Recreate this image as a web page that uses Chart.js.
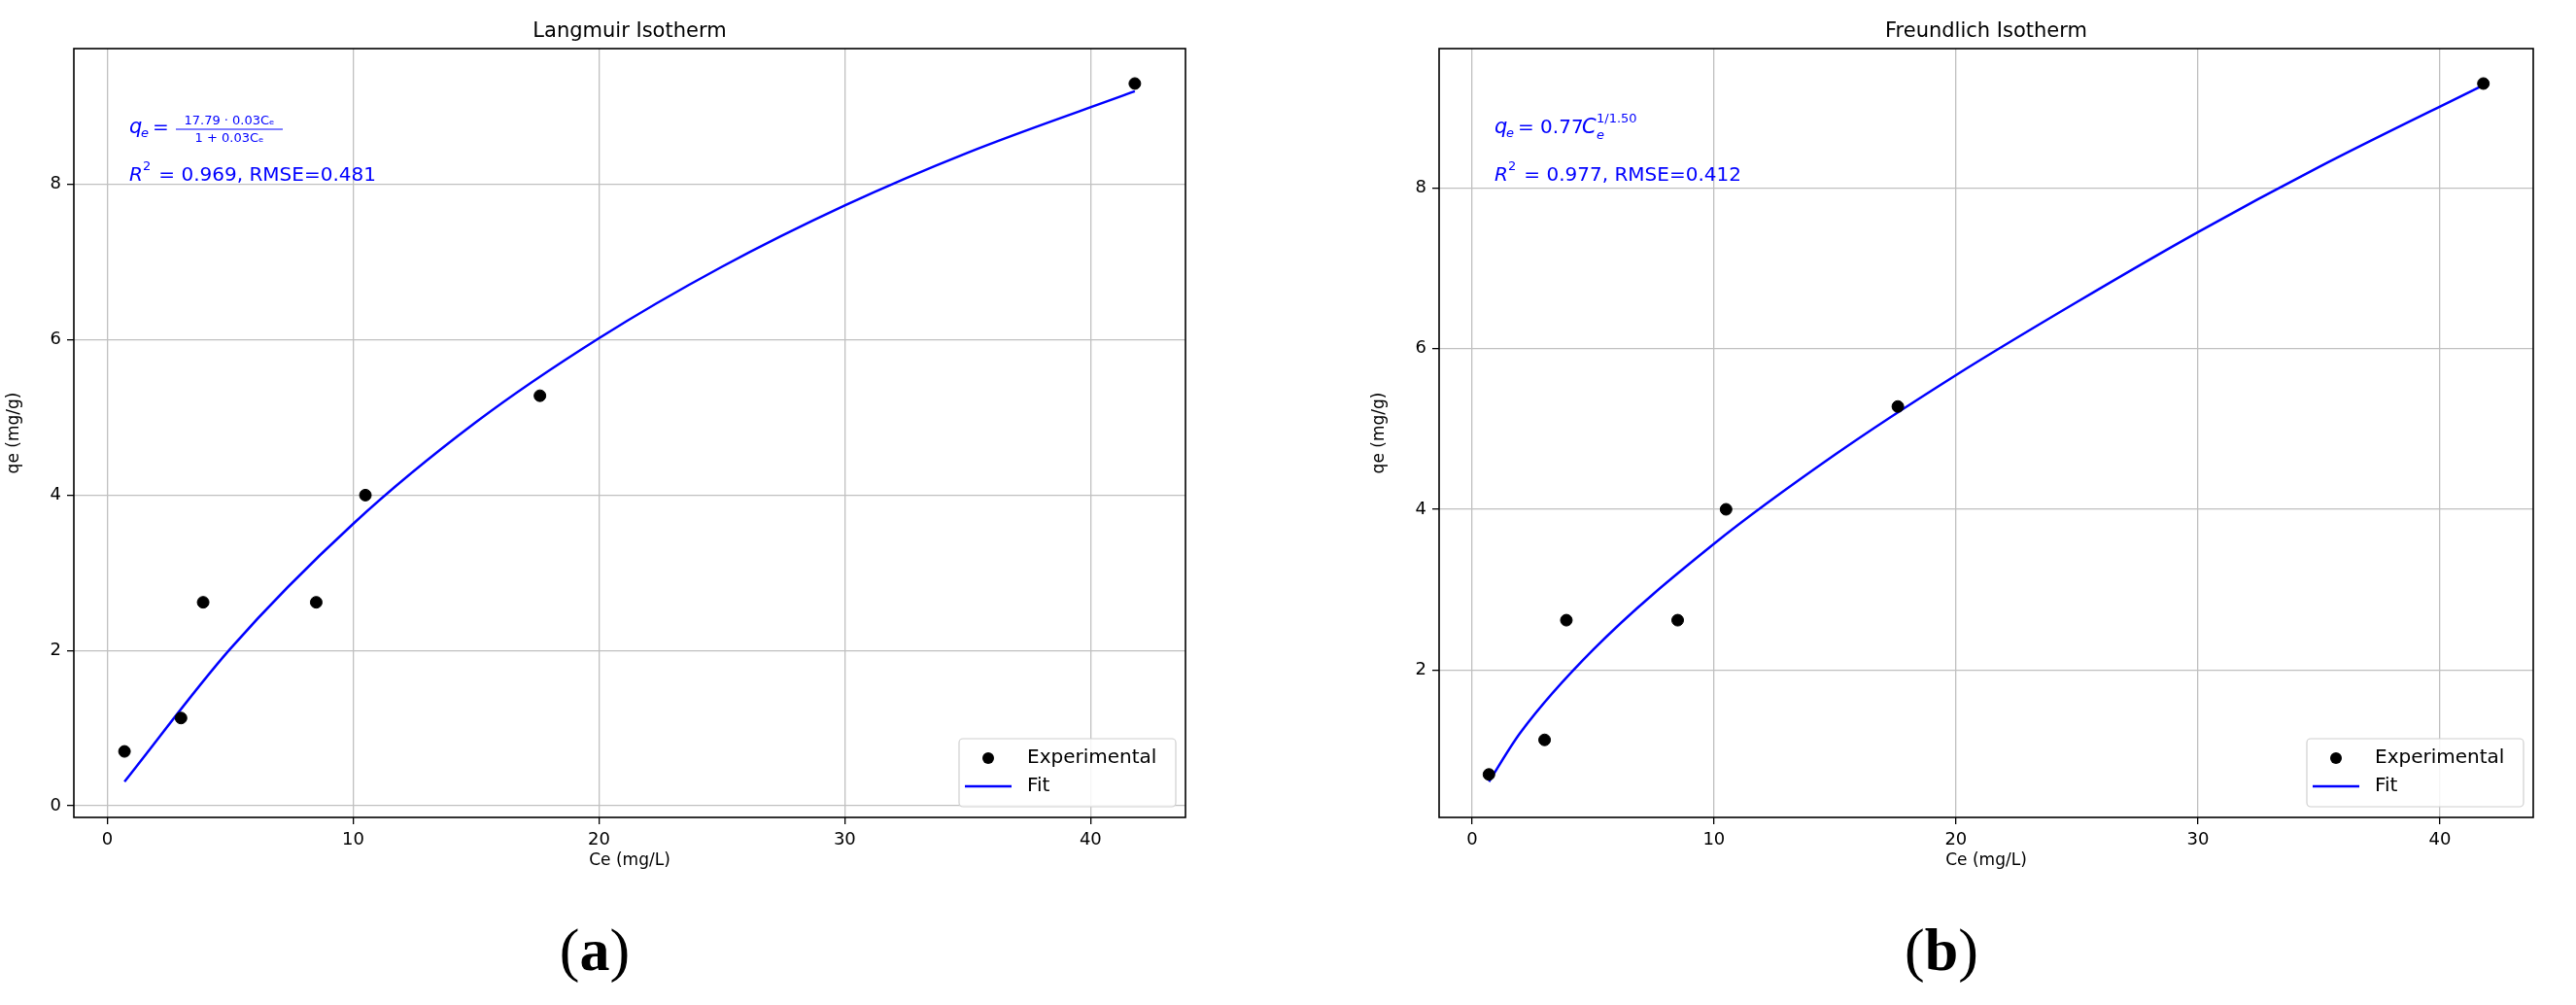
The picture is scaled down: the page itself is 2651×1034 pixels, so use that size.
<!DOCTYPE html>
<html><head><meta charset="utf-8">
<script src="https://cdn.jsdelivr.net/npm/chart.js@4"></script>
<style>
body{margin:0;background:#fff;width:2651px;height:1034px;position:relative;overflow:hidden}
.c{position:absolute;top:0}
.lab{position:absolute;top:942px;font-family:"Liberation Serif",serif;font-size:62px;transform:translateX(-50%)}
.lab b{font-weight:bold}
</style></head><body>
<div class="c" style="left:0;width:1240px;height:900px"><canvas id="c1"></canvas></div>
<div class="c" style="left:1405px;width:1240px;height:900px"><canvas id="c2"></canvas></div>
<div class="lab" style="left:612px">(<b>a</b>)</div>
<div class="lab" style="left:1998px">(<b>b</b>)</div>
<script>
const ceExp = [0.7, 3.0, 3.9, 8.5, 10.5, 17.6, 41.8];
const qeExp = [0.7, 1.13, 2.62, 2.62, 4.0, 5.28, 9.3];
const ceFitL = [0.7, 5, 10, 15, 20, 25, 30, 35, 41.8];
const qeFitL = [0.31, 2.02, 3.63, 4.94, 6.02, 6.94, 7.73, 8.41, 9.2];
const ceFitF = [0.7, 2, 5, 10, 15, 20, 25, 30, 35, 41.8];
const qeFitF = [0.61, 1.22, 2.25, 3.57, 4.68, 5.67, 6.58, 7.45, 8.26, 9.28];
const xTicks = [0, 10, 20, 30, 40];
const yTicksL = [0, 2, 4, 6, 8];
const yTicksR = [2, 4, 6, 8];

const F = '"DejaVu Sans", sans-serif';
function pts(xs, ys){ return xs.map((x,i)=>({x:x,y:ys[i]})); }

function overlay(title, drawFormula, r2text){
  return {
    id:'ov',
    afterDraw(ch){
      const c=ch.ctx, a=ch.chartArea;
      c.save();
      c.strokeStyle='#000'; c.lineWidth=1.6;
      c.strokeRect(a.left,a.top,a.right-a.left,a.bottom-a.top);
      c.fillStyle='#000'; c.font='21px '+F; c.textAlign='center'; c.textBaseline='alphabetic';
      c.fillText(title,(a.left+a.right)/2,a.top-12);
      // annotations
      c.fillStyle='#0000ff'; c.textAlign='left';
      drawFormula(c, a.left+57, 130);
      c.font='20px '+F;
      c.font='italic 20px '+F; c.fillText('R',a.left+57,186);
      c.font='13px '+F; c.fillText('2',a.left+71,175);
      c.font='20px '+F; c.fillText(r2text,a.left+81,186);
      // legend
      const bx=a.right-233, by=a.bottom-81, bw=223, bh=70;
      c.fillStyle='rgba(255,255,255,0.85)'; c.strokeStyle='#d0d0d0'; c.lineWidth=1.2;
      c.beginPath(); c.roundRect(bx,by,bw,bh,4); c.fill(); c.stroke();
      c.fillStyle='#000'; c.beginPath(); c.arc(bx+30,by+20,6,0,Math.PI*2); c.fill();
      c.strokeStyle='#0000ff'; c.lineWidth=2.5; c.beginPath(); c.moveTo(bx+6,by+49); c.lineTo(bx+54,by+49); c.stroke();
      c.fillStyle='#000'; c.font='20px '+F; c.textBaseline='middle';
      c.fillText('Experimental',bx+70,by+20); c.fillText('Fit',bx+70,by+49);
      c.restore();
    }
  };
}

function langFormula(c,x,y){
  c.font='italic 21px '+F; c.fillText('q',x,y+7);
  c.font='italic 13px '+F; c.fillText('e',x+12,y+11);
  c.font='20px '+F; c.fillText('=',x+24,y+7);
  c.font='13px '+F;
  c.textAlign='center';
  c.fillText('17.79 \u00b7 0.03C\u2091',x+103,y-2);
  c.fillText('1 + 0.03C\u2091',x+103,y+16);
  c.textAlign='left';
  c.strokeStyle='#0000ff'; c.lineWidth=1; c.beginPath(); c.moveTo(x+48,y+3); c.lineTo(x+158,y+3); c.stroke();
}
function freuFormula(c,x,y){
  c.font='italic 21px '+F; c.fillText('q',x,y+7);
  c.font='italic 13px '+F; c.fillText('e',x+12,y+11);
  c.font='20px '+F; c.fillText('= 0.77',x+24,y+7);
  c.font='italic 21px '+F; c.fillText('C',x+90,y+7);
  c.font='italic 13px '+F; c.fillText('e',x+105,y+13);
  c.font='13px '+F; c.fillText('1/1.50',x+105,y-4);
}

function make(id, fitX, fitY, ymin, ymax, yTicks, padR, title, ff, r2){
  const tickCb = (list)=>function(scale){ scale.ticks = list.map(v=>({value:v})); };
  new Chart(document.getElementById(id),{
    type:'scatter',
    data:{datasets:[
      {label:'Fit',type:'line',data:pts(fitX,fitY),borderColor:'#0000ff',borderWidth:2.5,pointRadius:0,tension:0.4,cubicInterpolationMode:'monotone',fill:false,order:2},
      {label:'Experimental',data:pts(ceExp,qeExp),backgroundColor:'#000',borderColor:'#000',pointRadius:6,order:1}
    ]},
    options:{
      responsive:true,maintainAspectRatio:false,animation:false,
      layout:{padding:{top:50,right:padR,left:0,bottom:0}},
      plugins:{legend:{display:false},tooltip:{enabled:false}},
      scales:{
        x:{type:'linear',min:-1.36,max:43.86,afterBuildTicks:tickCb(xTicks),
           grid:{color:'#c0c0c0',lineWidth:1.3,tickLength:7,tickColor:'#000'},border:{display:false},
           ticks:{color:'#000',font:{size:18,family:F},padding:6,maxRotation:0},
           title:{display:true,text:'Ce (mg/L)',color:'#000',font:{size:17,family:F},padding:{top:2}},
           afterFit(s){s.height=59;}},
        y:{min:ymin,max:ymax,afterBuildTicks:tickCb(yTicks),
           grid:{color:'#c0c0c0',lineWidth:1.3,tickLength:7,tickColor:'#000'},border:{display:false},
           ticks:{color:'#000',font:{size:18,family:F},padding:6},
           title:{display:true,text:'qe (mg/g)',color:'#000',font:{size:17,family:F},padding:{bottom:2}},
           afterFit(s){s.width=76;}}
      }
    },
    plugins:[overlay(title,ff,r2)]
  });
}
make('c1',ceFitL,qeFitL,-0.15,9.75,yTicksL,20,'Langmuir Isotherm',langFormula,' = 0.969, RMSE=0.481');
make('c2',ceFitF,qeFitF,0.165,9.735,yTicksR,38,'Freundlich Isotherm',freuFormula,' = 0.977, RMSE=0.412');
</script></body></html>
